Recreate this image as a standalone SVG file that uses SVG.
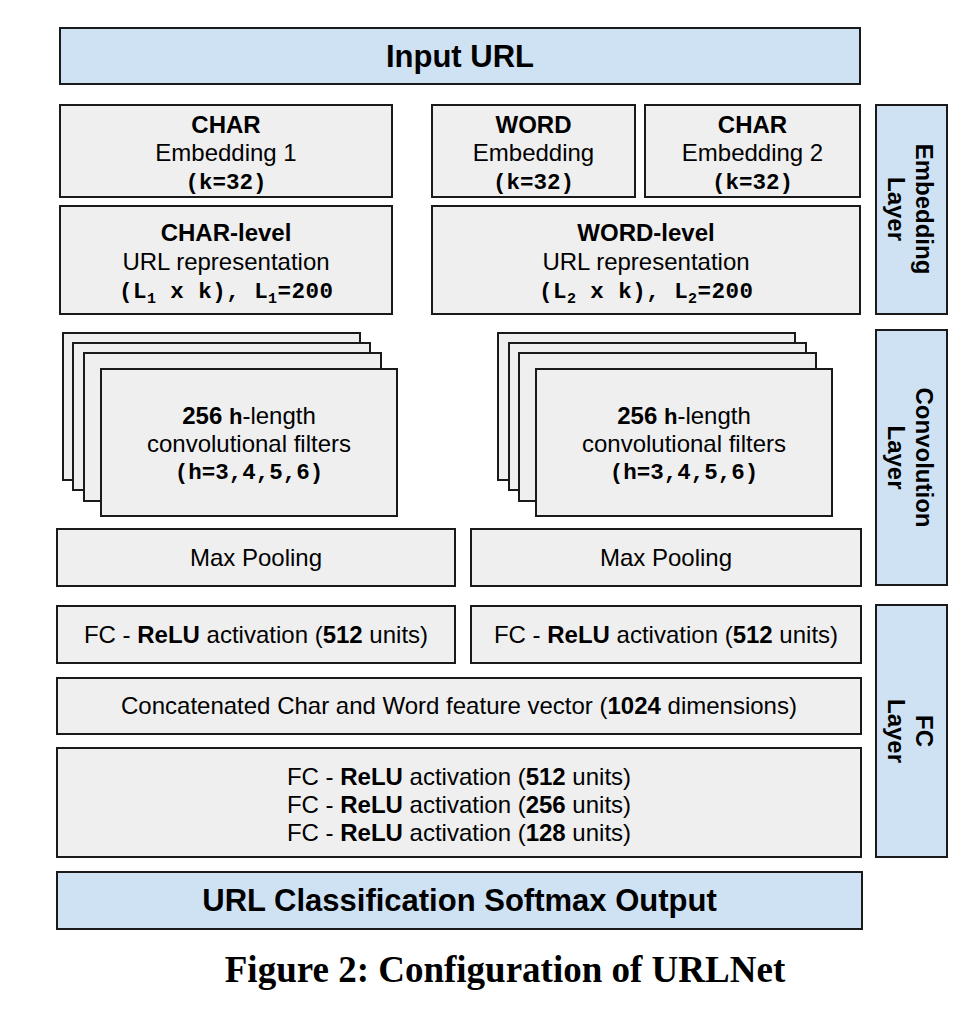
<svg xmlns="http://www.w3.org/2000/svg" width="964" height="1010" viewBox="0 0 964 1010">
<style>
.box{fill:#efefef;stroke:#1a1a1a;stroke-width:2}
.blue{fill:#cfe2f3;stroke:#1a1a1a;stroke-width:2}
text{font-family:"Liberation Sans",Arial,sans-serif;font-size:24px;fill:#000;text-anchor:middle}
.b{font-weight:bold}
.big{font-size:31px;font-weight:bold}
.m{font-family:"Liberation Mono","Courier New",monospace;font-weight:bold;font-size:22.5px}
.vl{font-weight:bold;font-size:24px}
.cap{font-family:"Liberation Serif","Times New Roman",serif;font-weight:bold;font-size:37px}
</style>
<rect width="964" height="1010" fill="#fff"/>
<g id="input-url"><rect class="blue" x="60" y="28" width="800" height="56"/><text class="big" x="460" y="67">Input URL</text></g>
<g id="char-embedding-1"><rect class="box" x="60" y="105" width="332" height="92"/>
<text class="b" x="226" y="133">CHAR</text><text x="226" y="161">Embedding 1</text><text class="m" x="226" y="189">(k=32)</text></g>
<g id="word-embedding"><rect class="box" x="432" y="105" width="203" height="92"/>
<text class="b" x="533.5" y="133">WORD</text><text x="533.5" y="161">Embedding</text><text class="m" x="533.5" y="189">(k=32)</text></g>
<g id="char-embedding-2"><rect class="box" x="645" y="105" width="215" height="92"/>
<text class="b" x="752.5" y="133">CHAR</text><text x="752.5" y="161">Embedding 2</text><text class="m" x="752.5" y="189">(k=32)</text></g>
<g id="embedding-layer"><rect class="blue" x="876" y="105" width="71" height="209"/>
<g transform="translate(911.5,209) rotate(90)"><text class="vl" x="0" y="-4">Embedding</text><text class="vl" x="0" y="24">Layer</text></g></g>
<g id="char-level"><rect class="box" x="60" y="206" width="332" height="108"/>
<text class="b" x="226" y="241">CHAR-level</text><text x="226" y="270">URL representation</text>
<text class="m" x="226" y="298" textLength="214" lengthAdjust="spacing" xml:space="preserve">(L<tspan font-size="15" dy="5">1</tspan><tspan dy="-5"> x k), L</tspan><tspan font-size="15" dy="5">1</tspan><tspan dy="-5">=200</tspan></text></g>
<g id="word-level"><rect class="box" x="432" y="206" width="428" height="108"/>
<text class="b" x="646" y="241">WORD-level</text><text x="646" y="270">URL representation</text>
<text class="m" x="646" y="298" textLength="214" lengthAdjust="spacing" xml:space="preserve">(L<tspan font-size="15" dy="5">2</tspan><tspan dy="-5"> x k), L</tspan><tspan font-size="15" dy="5">2</tspan><tspan dy="-5">=200</tspan></text></g>
<g id="char-conv-filters">
<rect class="box" x="63" y="333" width="297" height="147"/>
<rect class="box" x="73" y="343" width="297" height="147"/>
<rect class="box" x="84" y="353" width="297" height="148"/>
<rect class="box" x="101" y="369" width="296" height="147"/>
<text x="249" y="424"><tspan class="b">256 </tspan><tspan class="m">h</tspan>-length</text>
<text x="249" y="452">convolutional filters</text>
<text class="m" x="249" y="479">(h=3,4,5,6)</text></g>
<g id="word-conv-filters">
<rect class="box" x="498" y="333" width="297" height="147"/>
<rect class="box" x="509" y="343" width="297" height="147"/>
<rect class="box" x="519" y="353" width="297" height="148"/>
<rect class="box" x="536" y="369" width="296" height="147"/>
<text x="684" y="424"><tspan class="b">256 </tspan><tspan class="m">h</tspan>-length</text>
<text x="684" y="452">convolutional filters</text>
<text class="m" x="684" y="479">(h=3,4,5,6)</text></g>
<g id="char-max-pooling"><rect class="box" x="57" y="529" width="398" height="57"/><text x="256" y="566">Max Pooling</text></g>
<g id="word-max-pooling"><rect class="box" x="471" y="529" width="390" height="57"/><text x="666" y="566">Max Pooling</text></g>
<g id="convolution-layer"><rect class="blue" x="876" y="330" width="71" height="255"/>
<g transform="translate(911.5,457.5) rotate(90)"><text class="vl" x="0" y="-4">Convolution</text><text class="vl" x="0" y="24">Layer</text></g></g>
<g id="char-fc"><rect class="box" x="57" y="606" width="398" height="57"/>
<text x="256" y="643">FC - <tspan class="b">ReLU</tspan> activation (<tspan class="b">512</tspan> units)</text></g>
<g id="word-fc"><rect class="box" x="471" y="606" width="390" height="57"/>
<text x="666" y="643">FC - <tspan class="b">ReLU</tspan> activation (<tspan class="b">512</tspan> units)</text></g>
<g id="concat"><rect class="box" x="57" y="678" width="804" height="56"/>
<text x="459" y="714">Concatenated Char and Word feature vector (<tspan class="b">1024</tspan> dimensions)</text></g>
<g id="fc-stack"><rect class="box" x="57" y="748" width="804" height="109"/>
<text x="459" y="785">FC - <tspan class="b">ReLU</tspan> activation (<tspan class="b">512</tspan> units)</text>
<text x="459" y="813">FC - <tspan class="b">ReLU</tspan> activation (<tspan class="b">256</tspan> units)</text>
<text x="459" y="841">FC - <tspan class="b">ReLU</tspan> activation (<tspan class="b">128</tspan> units)</text></g>
<g id="fc-layer"><rect class="blue" x="876" y="605" width="71" height="252"/>
<g transform="translate(911.5,731) rotate(90)"><text class="vl" x="0" y="-4">FC</text><text class="vl" x="0" y="24">Layer</text></g></g>
<g id="output"><rect class="blue" x="57" y="872" width="805" height="57"/><text class="big" x="459.5" y="911">URL Classification Softmax Output</text></g>
<g id="connectors"></g>
<text class="cap" x="505" y="982">Figure 2: Configuration of URLNet</text>
</svg>
